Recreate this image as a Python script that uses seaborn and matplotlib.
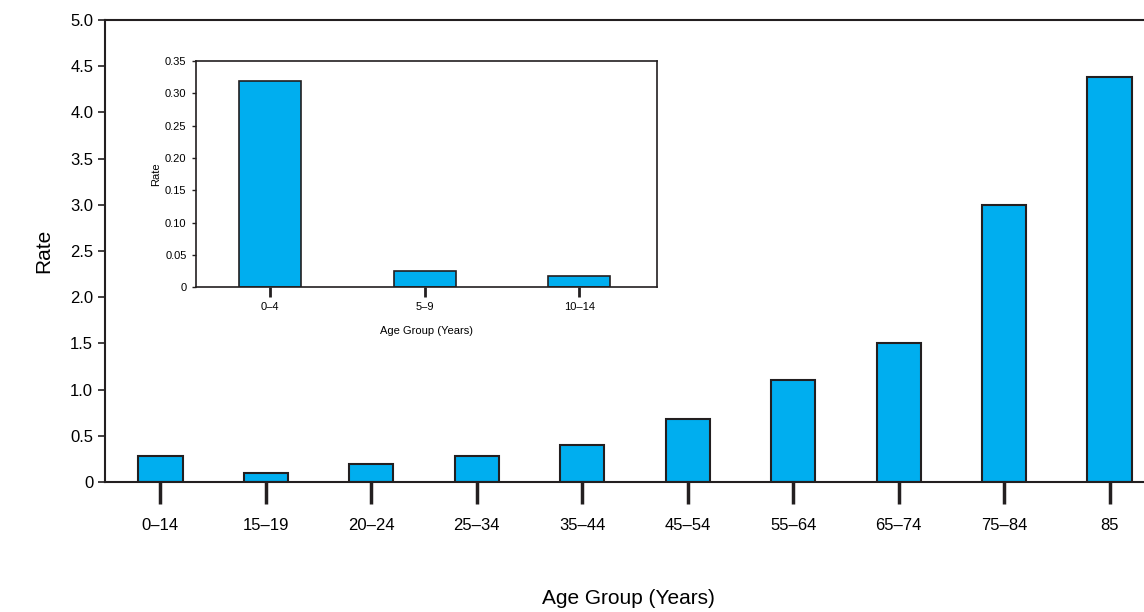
import matplotlib
matplotlib.use("Agg")
import matplotlib.pyplot as plt
import seaborn as sns
import pandas as pd

# main chart data
age_groups = ['0–14', '15–19', '20–24', '25–34', '35–44', '45–54',
              '55–64', '65–74', '75–84', '85']
rates = [0.28, 0.10, 0.19, 0.28, 0.40, 0.68, 1.10, 1.50, 3.00, 4.38]

# inset data
inset_groups = ['0–4', '5–9', '10–14']
inset_rates = [0.32, 0.025, 0.017]

sns.set_style('white')
plt.rcParams['font.family'] = ['Liberation Sans', 'DejaVu Sans']
plt.rcParams['text.color'] = 'black'
plt.rcParams['axes.labelcolor'] = 'black'
plt.rcParams['xtick.color'] = 'black'
plt.rcParams['ytick.color'] = 'black'

bar_color = '#00AEEF'
edge = '#231f20'

fig = plt.figure(figsize=(11.44, 6.12), dpi=100)
ax = fig.add_axes([0.0918, 0.2124, 0.915, 0.755])

df = pd.DataFrame({'age': age_groups, 'rate': rates})
sns.barplot(data=df, x='age', y='rate', color=bar_color, edgecolor=edge,
            linewidth=1.5, width=0.42, saturation=1, ax=ax)
ax.set_xlim(-0.525, 9.4)
ax.set_ylim(0, 5.0)
ax.set_yticks([0, 0.5, 1, 1.5, 2, 2.5, 3, 3.5, 4, 4.5, 5])
ax.set_yticklabels(['0', '0.5', '1.0', '1.5', '2.0', '2.5', '3.0', '3.5',
                    '4.0', '4.5', '5.0'], fontsize=12)
ax.tick_params(axis='y', left=True, direction='out', length=5, width=1.2,
               color=edge)
ax.tick_params(axis='x', bottom=True, direction='out', length=16, width=2.5,
               color=edge, pad=10, labelsize=12)
for s in ['left', 'top', 'bottom']:
    ax.spines[s].set_color(edge)
    ax.spines[s].set_linewidth(1.5)
ax.spines['right'].set_visible(False)
ax.set_ylabel('Rate', fontsize=15, labelpad=12)
ax.set_xlabel('Age Group (Years)', fontsize=15, labelpad=40)

# inset
ax2 = fig.add_axes([0.171, 0.531, 0.403, 0.369])
di = pd.DataFrame({'age': inset_groups, 'rate': inset_rates})
sns.barplot(data=di, x='age', y='rate', color=bar_color, edgecolor=edge,
            linewidth=1.2, width=0.4, saturation=1, ax=ax2)
ax2.set_xlim(-0.48, 2.5)
ax2.set_ylim(0, 0.35)
ax2.set_yticks([0, 0.05, 0.10, 0.15, 0.20, 0.25, 0.30, 0.35])
ax2.set_yticklabels(['0', '0.05', '0.10', '0.15', '0.20', '0.25', '0.30',
                     '0.35'], fontsize=8)
ax2.tick_params(axis='y', left=True, direction='out', length=3, width=1,
                color=edge)
ax2.tick_params(axis='x', bottom=True, direction='out', length=7, width=2,
                color=edge, labelsize=8)
for s in ax2.spines.values():
    s.set_color(edge)
    s.set_linewidth(1.2)
ax2.set_ylabel('Rate', fontsize=8, labelpad=3)
ax2.set_xlabel('Age Group (Years)', fontsize=8, labelpad=10)

fig.savefig('out.png', dpi=100, facecolor='white')
